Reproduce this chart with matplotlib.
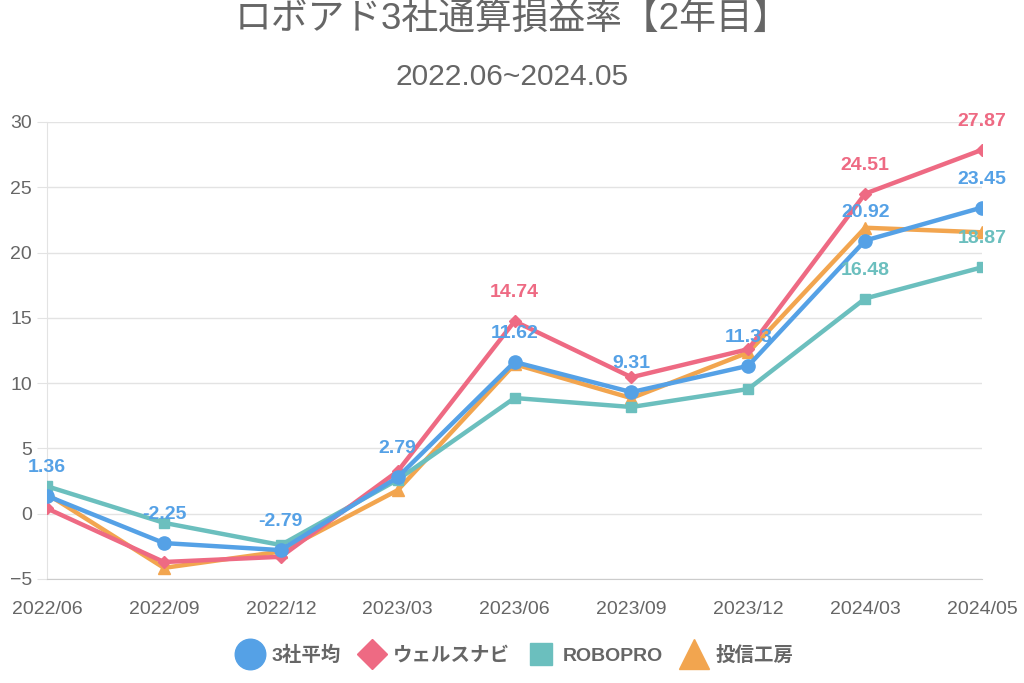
import matplotlib
matplotlib.use("Agg")
import matplotlib.pyplot as plt
from matplotlib.lines import Line2D

plt.rcParams['font.family'] = ['Liberation Sans', 'Noto Sans CJK JP', 'DejaVu Sans']

# data
months = ['2022/06', '2022/09', '2022/12', '2023/03', '2023/06',
          '2023/09', '2023/12', '2024/03', '2024/05']
avg3 = [1.36, -2.25, -2.79, 2.79, 11.62, 9.31, 11.33, 20.92, 23.45]
wealthnavi = [0.4, -3.7, -3.3, 3.25, 14.74, 10.45, 12.6, 24.51, 27.87]
robopro = [2.1, -0.7, -2.4, 2.6, 8.86, 8.17, 9.55, 16.48, 18.87]
toshin = [1.5, -4.15, -2.9, 1.8, 11.45, 8.85, 12.35, 21.9, 21.55]

# which points carry a value label
avg3_labels = [0, 1, 2, 3, 4, 5, 6, 7, 8]
wealthnavi_labels = [4, 7, 8]
robopro_labels = [7, 8]
toshin_labels = []

# name, values, colour, marker, marker size, legend marker size, labelled points, zorder
series = [
    ('3社平均', avg3, '#55a1e6', 'o', 9.5, 22, avg3_labels, 6),
    ('ウェルスナビ', wealthnavi, '#ee6a83', 'D', 6.5, 15.3, wealthnavi_labels, 5),
    ('ROBOPRO', robopro, '#6bbfbe', 's', 6.5, 16, robopro_labels, 4),
    ('投信工房', toshin, '#f2a54f', '^', 8, 21, toshin_labels, 3),
]

fig = plt.figure(figsize=(10.24, 6.83), dpi=100)
ax = fig.add_axes([0.046, 0.1523, 0.913, 0.6691])

x = list(range(len(months)))
for name, vals, col, mk, ms, lms, lab_idx, z in series:
    ax.plot(x, vals, color=col, lw=3.2, marker=mk, markersize=ms, zorder=z,
            solid_joinstyle='round')
    for i in lab_idx:
        ax.annotate(f'{vals[i]:.2f}', (x[i], vals[i]), xytext=(0, 20.5),
                    textcoords='offset points', ha='center', va='center',
                    color=col, fontsize=14, fontweight='bold', zorder=10)

ax.set_xlim(0, len(months) - 1)
ax.set_ylim(-5, 30)
ax.set_yticks(range(-5, 31, 5))
ax.set_xticks(x)
ax.set_xticklabels(months)
ax.grid(axis='y', color='#e3e3e3', lw=1)
ax.set_axisbelow(True)
for s in ['top', 'right']:
    ax.spines[s].set_visible(False)
ax.spines['left'].set_color('#e3e3e3')
ax.spines['bottom'].set_color('#cccccc')
ax.tick_params(axis='y', colors='#e3e3e3', labelcolor='#666666', labelsize=14, length=7, pad=4)
ax.tick_params(axis='x', colors='#e3e3e3', labelcolor='#666666', labelsize=14, length=0, pad=16)

fig.text(0.5, 0.972, 'ロボアド3社通算損益率【2年目】', ha='center', va='center',
         fontsize=26.5, color='#666666')
fig.text(0.5, 0.887, '2022.06~2024.05', ha='center', va='center',
         fontsize=21.5, color='#666666')

handles = [Line2D([], [], ls='none', marker=mk, markersize=lms, color=col)
           for name, vals, col, mk, ms, lms, lab_idx, z in series]
leg = fig.legend(handles, [s[0] for s in series], loc='center', bbox_to_anchor=(0.5, 0.041),
                 ncol=4, frameon=False, handletextpad=0.1, columnspacing=0.6,
                 prop={'size': 14, 'weight': 'bold'})
for t in leg.get_texts():
    t.set_color('#666666')

fig.savefig('out.png', dpi=100)
